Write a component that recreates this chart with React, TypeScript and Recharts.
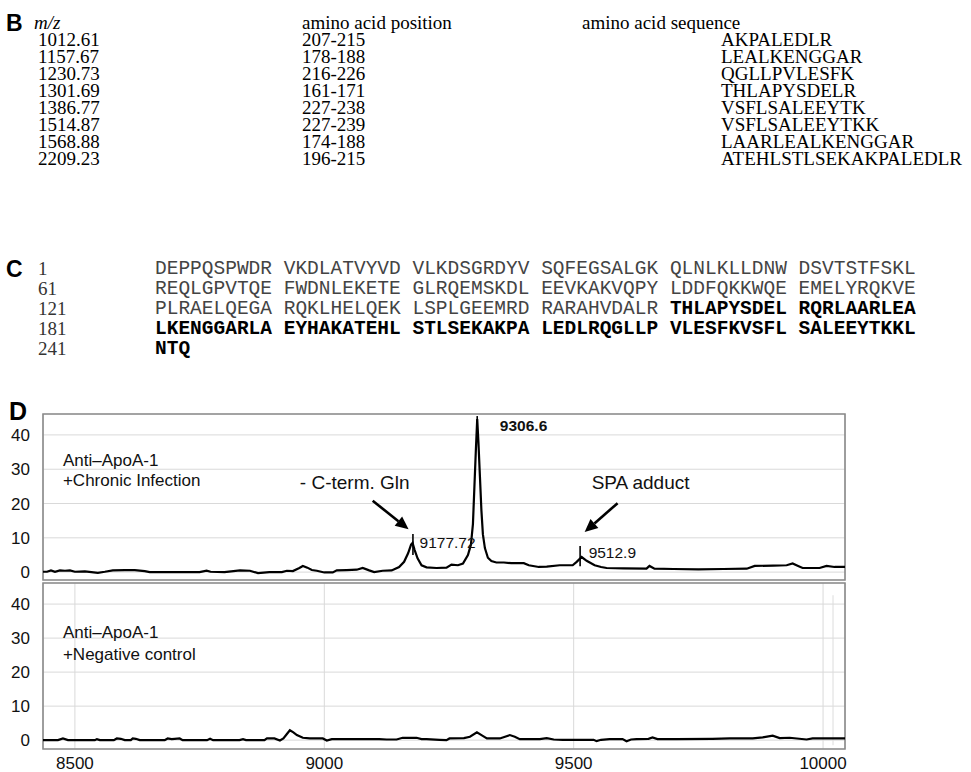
import React from "react"
import { LineChart, Line, XAxis, YAxis, CartesianGrid, ReferenceLine, ReferenceArea, ReferenceDot } from "recharts"

// panel B table
const peptideMz = ["1012.61", "1157.67", "1230.73", "1301.69", "1386.77", "1514.87", "1568.88", "2209.23"]
const peptidePositions = ["207-215", "178-188", "216-226", "161-171", "227-238", "227-239", "174-188", "196-215"]
const peptideSequences = [
  "AKPALEDLR",
  "LEALKENGGAR",
  "QGLLPVLESFK",
  "THLAPYSDELR",
  "VSFLSALEEYTK",
  "VSFLSALEEYTKK",
  "LAARLEALKENGGAR",
  "ATEHLSTLSEKAKPALEDLR",
]

// panel C sequence
const seqLineStarts = ["1", "61", "121", "181", "241"]
const seqPlain = [
  "DEPPQSPWDR VKDLATVYVD VLKDSGRDYV SQFEGSALGK QLNLKLLDNW DSVTSTFSKL",
  "REQLGPVTQE FWDNLEKETE GLRQEMSKDL EEVKAKVQPY LDDFQKKWQE EMELYRQKVE",
  "PLRAELQEGA RQKLHELQEK LSPLGEEMRD RARAHVDALR ",
  "",
  "",
]
const seqBold = ["", "", "THLAPYSDEL RQRLAARLEA", "LKENGGARLA EYHAKATEHL STLSEKAKPA LEDLRQGLLP VLESFKVSFL SALEEYTKKL", "NTQ"]

// panel D spectra
const mzTicks = [8500, 9000, 9500, 10000]
const intensityTicks = [0, 10, 20, 30, 40]
const mzDomain = [8436, 10044]

const chronicMz = [
  8436, 8444, 8452, 8460, 8470, 8480, 8490, 8500, 8520, 8546, 8560, 8576, 8600, 8620, 8640, 8650, 8700, 8750,
  8764, 8772, 8800, 8831, 8851, 8867, 8890, 8915, 8925, 8937, 8950, 8957, 8966, 8975, 8985, 9000, 9017, 9025,
  9045, 9065, 9077, 9090, 9100, 9117, 9135, 9150, 9160, 9168, 9174, 9177, 9181, 9187, 9195, 9205, 9225, 9245,
  9255, 9268, 9278, 9288, 9294, 9298, 9301, 9304, 9306.6, 9309, 9312, 9315, 9318, 9322, 9328, 9335, 9345, 9360,
  9375, 9400, 9410, 9430, 9446, 9472, 9498, 9506, 9516, 9526, 9542, 9555, 9566, 9600, 9646, 9652, 9662, 9700,
  9750, 9800, 9847, 9863, 9900, 9927, 9939, 9950, 9959, 9993, 10007, 10023, 10044,
]
const chronicIntensity = [
  0.1, 0.1, 0.5, 0.1, 0.5, 0.4, 0.5, 0.1, 0.2, -0.2, 0.1, 0.5, 0.6, 0.6, 0.3, 0.0, 0.0, 0.0,
  0.4, 0.1, 0.0, 0.5, 0.4, -0.3, 0.0, 0.0, 0.4, 0.3, 1.2, 1.8, 1.3, 0.6, 0.4, -0.1, -0.1, 0.5,
  0.6, 0.7, 1.2, 0.5, 0.0, 0.4, 0.5, 1.5, 3.0, 5.5, 8.0, 8.5, 6.5, 4.0, 2.0, 1.4, 1.2, 1.3,
  2.2, 2.0, 2.5, 5.0, 8.0, 14, 25, 36, 44.6, 38, 28, 18, 11, 7, 4.2, 3.2, 2.8, 2.8,
  2.6, 2.6, 2.0, 1.5, 1.6, 2.0, 2.0, 3.0, 4.4, 3.3, 2.0, 1.5, 1.2, 1.1, 1.0, 1.8, 1.0, 0.9,
  0.8, 0.9, 1.0, 1.8, 1.9, 2.0, 2.5, 1.8, 1.2, 1.2, 1.8, 1.5, 1.5,
]

const controlMz = [
  8436, 8466, 8476, 8486, 8540, 8544, 8550, 8578, 8584, 8592, 8600, 8612, 8616, 8622, 8630, 8680, 8686, 8694,
  8700, 8710, 8716, 8765, 8771, 8777, 8830, 8837, 8843, 8880, 8885, 8900, 8911, 8918, 8925, 8931, 8938, 8945,
  8957, 8971, 8997, 9005, 9015, 9031, 9097, 9110, 9125, 9145, 9157, 9185, 9195, 9205, 9231, 9245, 9251, 9280,
  9292, 9306, 9316, 9326, 9352, 9372, 9382, 9392, 9432, 9446, 9460, 9478, 9540, 9546, 9555, 9572, 9598, 9606,
  9615, 9626, 9650, 9658, 9668, 9706, 9778, 9813, 9859, 9879, 9899, 9913, 9933, 9967, 9979, 10044,
]
const controlIntensity = [
  0, 0, 0.5, 0, 0, 0.3, 0, 0, 0.5, 0.4, 0, 0, 0.5, 0.4, 0, 0, 0.5, 0.3,
  0.4, 0.5, 0, 0, 0.4, 0, 0, 0.3, 0, 0, 0.5, 0.5, -0.1, 0.5, 1.8, 2.9, 2.3, 1.5,
  0.7, 0.5, 0.5, -0.1, 0.3, 0.3, 0.3, 0.3, 0.2, 0.2, 0.7, 0.7, 0.3, 0.3, 0.1, 0, 0.5, 0.6,
  1.0, 2.3, 1.4, 0.5, 0.5, 1.5, 1.0, 0.3, 0.3, 0.6, 0.2, 0.1, 0.1, -0.3, 0.1, 0.3, 0.3, -0.3,
  0.2, 0.3, 0.4, 0.8, 0.3, 0.3, 0.4, 0.5, 0.5, 0.8, 1.3, 0.6, 0.7, 0.2, 0.5, 0.5,
]

const sans = '"Liberation Sans", Arial, Helvetica, sans-serif'
const serif = '"Liberation Serif", "Times New Roman", serif'
const mono = '"Liberation Mono", "Courier New", monospace'

const chronicData = chronicMz.map((mz, i) => ({ mz, v: chronicIntensity[i] }))
const controlData = controlMz.map((mz, i) => ({ mz, v: controlIntensity[i] }))

const Arrow = (p: any) => {
  const { x1, y1, x2, y2 } = p
  const a = Math.atan2(y2 - y1, x2 - x1)
  const len = 13
  const w = 6
  const bx = x2 - len * Math.cos(a)
  const by = y2 - len * Math.sin(a)
  const px = -Math.sin(a) * w
  const py = Math.cos(a) * w
  return (
    <g>
      <line x1={x1} y1={y1} x2={bx} y2={by} stroke="#000" strokeWidth={2.6} />
      <polygon points={`${x2},${y2} ${bx + px},${by + py} ${bx - px},${by - py}`} fill="#000" />
    </g>
  )
}

const label = (text: string, size: number, bold = false) => (p: any) => (
  <text x={p.cx} y={p.cy} dy="0.35em" fontFamily={sans} fontSize={size} fontWeight={bold ? 700 : 400} fill="#111">
    {text}
  </text>
)

const axisTick = { fontFamily: sans, fontSize: 17, fill: "#111" }

function Spectrum({ data, yDomain, showX, children }: any) {
  return (
    <LineChart
      width={860}
      height={showX ? 199 : 188}
      data={data}
      margin={{ top: showX ? 10 : 14, right: 15, bottom: showX ? 0 : 8, left: 0 }}
    >
      <CartesianGrid stroke="#d9d9d9" strokeWidth={1} />
      <XAxis
        dataKey="mz"
        type="number"
        domain={mzDomain}
        ticks={mzTicks}
        interval={0}
        allowDataOverflow
        axisLine={false}
        tickLine={false}
        tick={showX ? axisTick : false}
        tickSize={0}
        tickMargin={8}
        height={showX ? 23 : 0}
      />
      <YAxis
        type="number"
        domain={yDomain}
        ticks={intensityTicks}
        interval={0}
        allowDataOverflow
        axisLine={false}
        tickLine={false}
        tick={axisTick}
        tickSize={0}
        tickMargin={13}
        width={43}
      />
      <ReferenceArea
        x1={mzDomain[0]}
        x2={mzDomain[1]}
        y1={yDomain[0]}
        y2={yDomain[1]}
        fill="none"
        stroke="#8a8a8a"
        strokeWidth={1.6}
        ifOverflow="visible"
      />
      {children}
      <Line
        type="linear"
        dataKey="v"
        stroke="#000"
        strokeWidth={2.2}
        dot={false}
        isAnimationActive={false}
      />
    </LineChart>
  )
}

const cell = (left: number, top: number, extra: any = {}) => ({
  position: "absolute" as const,
  left,
  top,
  transform: "translateY(-50%)",
  fontFamily: serif,
  fontSize: 19,
  lineHeight: "16px",
  whiteSpace: "pre" as const,
  ...extra,
})

export default function App() {
  const rowY = (i: number) => 40 + 17 * i
  const seqY = (i: number) => 269 + 20 * i
  return (
    <div style={{ position: "absolute", left: 0, top: 0, width: 971, height: 772, background: "#fff", overflow: "hidden" }}>
      {/* B */}
      <div style={cell(6, 23, { fontFamily: sans, fontWeight: 700, fontSize: 23, lineHeight: "18px" })}>B</div>
      <div style={cell(34, 23, { fontStyle: "italic" })}>m/z</div>
      <div style={cell(302, 23)}>amino acid position</div>
      <div style={cell(582, 23)}>amino acid sequence</div>
      {peptideMz.map((m, i) => (
        <React.Fragment key={m}>
          <div style={cell(38, rowY(i))}>{m}</div>
          <div style={cell(302, rowY(i))}>{peptidePositions[i]}</div>
          <div style={cell(721, rowY(i))}>{peptideSequences[i]}</div>
        </React.Fragment>
      ))}

      {/* C */}
      <div style={cell(6, seqY(0), { fontFamily: sans, fontWeight: 700, fontSize: 23, lineHeight: "18px" })}>C</div>
      {seqLineStarts.map((s, i) => (
        <React.Fragment key={s}>
          <div style={cell(38, seqY(i), { color: "#333" })}>{s}</div>
          <div style={cell(155, seqY(i), { fontFamily: mono, fontSize: 19.5, lineHeight: "18px", color: "#444" })}>
            {seqPlain[i]}
            <span style={{ fontWeight: 700, color: "#000" }}>{seqBold[i]}</span>
          </div>
        </React.Fragment>
      ))}

      {/* D */}
      <div style={cell(9, 411, { fontFamily: sans, fontWeight: 700, fontSize: 25, lineHeight: "20px" })}>D</div>

      <div style={{ position: "absolute", left: 0, top: 400 }}>
        <Spectrum data={chronicData} yDomain={[-2.3, 46.1]} showX={false}>
          <ReferenceLine segment={[{ x: 9097, y: 20.8 }, { x: 9169, y: 12.5 }]} shape={Arrow} ifOverflow="visible" />
          <ReferenceLine segment={[{ x: 9588, y: 20.1 }, { x: 9522, y: 11.7 }]} shape={Arrow} ifOverflow="visible" />
          <ReferenceLine segment={[{ x: 9177.72, y: 11.1 }, { x: 9177.72, y: 5 }]} stroke="#000" strokeWidth={1.6} />
          <ReferenceLine segment={[{ x: 9512.9, y: 7.6 }, { x: 9512.9, y: 1.7 }]} stroke="#000" strokeWidth={1.6} />
          <ReferenceLine segment={[{ x: 9306.6, y: 45.5 }, { x: 9306.6, y: 38.5 }]} stroke="#000" strokeWidth={1.6} />
          <ReferenceDot x={8476} y={32.7} shape={label("Anti\u2013ApoA-1", 17)} />
          <ReferenceDot x={8476} y={26.8} shape={label("+Chronic Infection", 17)} />
          <ReferenceDot x={8951} y={26.2} shape={label("- C-term. Gln", 19)} />
          <ReferenceDot x={9191} y={8.75} shape={label("9177.72", 15.5)} />
          <ReferenceDot x={9352} y={42.6} shape={label("9306.6", 15.5, true)} />
          <ReferenceDot x={9536} y={26.2} shape={label("SPA adduct", 19)} />
          <ReferenceDot x={9530} y={5.8} shape={label("9512.9", 15.5)} />
        </Spectrum>
      </div>

      <div style={{ position: "absolute", left: 0, top: 573 }}>
        <Spectrum data={controlData} yDomain={[-2.6, 46.2]} showX>
          <ReferenceLine segment={[{ x: 10020, y: 42.6 }, { x: 10020, y: -1.5 }]} stroke="#dcdcdc" strokeWidth={1} />
          <ReferenceDot x={8476} y={31.8} shape={label("Anti\u2013ApoA-1", 17)} />
          <ReferenceDot x={8476} y={25.3} shape={label("+Negative control", 17)} />
        </Spectrum>
      </div>
    </div>
  )
}
